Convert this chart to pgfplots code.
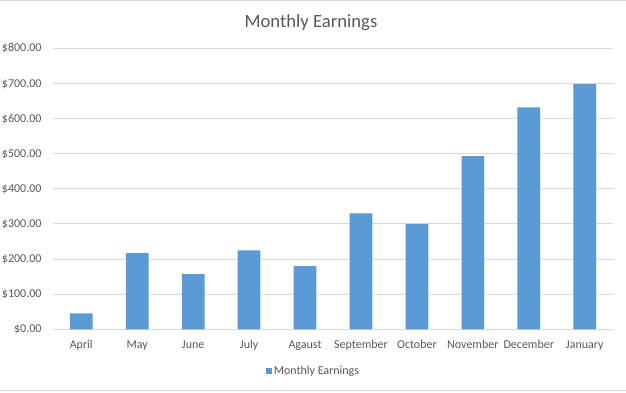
\documentclass[border=0pt]{standalone}
\usepackage{fontspec}
\setmainfont{Carlito}
\usepackage{pgfplots}
\pgfplotsset{compat=1.18}
\definecolor{barblue}{HTML}{5B9BD5}
\definecolor{txt}{HTML}{595959}
\definecolor{gridc}{HTML}{D9D9D9}
\begin{document}
\begin{tikzpicture}[x=1pt,y=1pt]
\useasboundingbox (0,0) rectangle (626,392);
\fill[white] (0,0) rectangle (626,392);
\draw[gridc, line width=1pt] (0,391.5) -- (626,391.5);
\draw[gridc, line width=1pt] (0,2) -- (626,2);
\node[anchor=base, font=\fontsize{18.67}{22}\selectfont, text=txt, inner sep=0pt] at (311,364.3) {Monthly Earnings};
\begin{axis}[
  at={(53.3pt,62.7pt)}, anchor=south west,
  scale only axis, width=559.4pt, height=281pt,
  xmin=-0.5, xmax=9.5, ymin=0, ymax=800,
  xtick={0,...,9},
  xticklabels={April,May,June,July,Agaust,September,October,November,December,January},
  ytick={0,100,...,800},
  yticklabels={\$0.00,\$100.00,\$200.00,\$300.00,\$400.00,\$500.00,\$600.00,\$700.00,\$800.00},
  axis line style={draw=none},
  major tick length=0pt,
  tick style={draw=none},
  ymajorgrids,
  grid style={gridc, line width=0.9pt},
  ticklabel style={font=\fontsize{12}{14}\selectfont, text=txt, inner sep=0pt},
  xticklabel style={anchor=base, yshift=-19.2pt},
  yticklabel style={anchor=base east, xshift=-11.6pt, yshift=-3.6pt},
  legend style={at={(0.465,-0.1484)}, anchor=center, draw=none, fill=none,
    font=\fontsize{12}{14}\selectfont, text=txt, inner sep=0pt,
    /tikz/every even column/.append style={column sep=0pt}},
  legend image code/.code={\fill[barblue] (0pt,-3pt) rectangle (6pt,3pt);},
  clip=false,
]
\addplot[ybar, bar width=22.7pt, fill=barblue, draw=none] table[x=x, y=y] {
x y
0 45
1 217
2 157
3 225
4 180
5 330
6 300
7 493
8 632
9 698
};
\addlegendentry{Monthly Earnings}
\end{axis}
\end{tikzpicture}
\end{document}
